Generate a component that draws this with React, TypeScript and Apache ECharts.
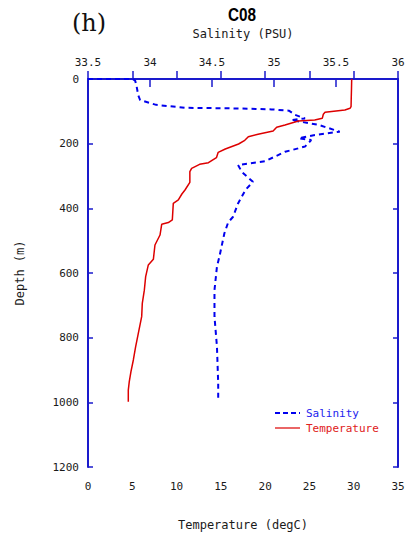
import React, { useEffect, useRef } from 'react';
import * as echarts from 'echarts';

const depthRange = [0, 1200];
const tempRange = [0, 35];
const salRange = [33.5, 36];

const tempDepth = [0, 3, 30, 60, 85.6, 90.7, 95.9, 103, 109, 121.7, 126.8, 129.9, 142.3, 149.5, 160.8, 171, 178.4, 189.7, 201, 216.5, 226.8, 243.3, 258.8, 264, 276.3, 286.6, 319.6, 343.3, 355.7, 374, 384.6, 436, 444, 449.5, 482.5, 513.5, 557.7, 575, 611, 653, 694, 735, 787, 828, 869, 905, 936, 962, 998];
const tempValues = [29.8, 29.77, 29.75, 29.72, 29.7, 29.58, 29.0, 26.76, 26.57, 26.45, 25.6, 23.75, 22.24, 21.3, 20.9, 19.2, 18.1, 17.7, 17.0, 15.5, 14.7, 14.5, 13.6, 12.6, 11.7, 11.5, 11.5, 10.95, 10.6, 10.2, 9.63, 9.52, 9.07, 8.32, 8.13, 7.56, 7.38, 6.81, 6.51, 6.36, 6.13, 6.06, 5.68, 5.38, 5.12, 4.85, 4.66, 4.55, 4.55];

const salDepth = [0, 0, 5, 18, 50, 65, 80, 89, 91, 94, 98, 111, 122, 127, 142, 163, 173, 183, 189, 209, 225, 254, 266, 287, 318, 343, 385, 426, 444, 477, 549, 580, 653, 735, 828, 941, 993];
const salValues = [33.5, 33.86, 33.88, 33.89, 33.905, 33.92, 34.05, 34.28, 34.69, 34.98, 35.12, 35.17, 35.25, 35.14, 35.36, 35.53, 35.33, 35.2, 35.3, 35.25, 35.09, 34.93, 34.71, 34.74, 34.83, 34.77, 34.71, 34.67, 34.63, 34.6, 34.56, 34.54, 34.52, 34.52, 34.54, 34.55, 34.55];

const seriesNames = ['Salinity', 'Temperature'];
const seriesColors = ['#0000ee', '#dd0000'];
const legendTextColors = ['#2222ee', '#e02020'];

const AXIS = '#1a1acc';
const TXT = '#1a1a1a';
const MONO = "'DejaVu Sans Mono', monospace";

export default function App() {
  const ref = useRef<HTMLDivElement>(null);
  useEffect(() => {
    if (!ref.current) return;
    const chart = echarts.init(ref.current, undefined, { renderer: 'svg' });
    const axisLine = { show: true, lineStyle: { color: AXIS, width: 2 } };
    const label = { color: TXT, fontFamily: MONO, fontSize: 11, formatter: (v: number) => String(v) };
    chart.setOption({
      animation: false,
      backgroundColor: '#ffffff',
      grid: { left: 88, right: 11, top: 79, bottom: 72, containLabel: false },
      graphic: [
        { type: 'text', left: 72, top: 11, style: { text: '(h)', font: "24px 'DejaVu Serif', serif", fill: '#111' } },
        { type: 'text', x: 242, y: 15, scaleX: 0.85, style: { text: 'C08', font: "bold 18px 'Liberation Sans', Arial, sans-serif", fill: '#000', align: 'center', verticalAlign: 'middle' } },
        { type: 'line', shape: { x1: 275, y1: 413, x2: 300, y2: 413 }, style: { stroke: seriesColors[0], lineWidth: 2, lineDash: [5, 3] } },
        { type: 'text', x: 306, y: 413, style: { text: seriesNames[0], font: "11px 'DejaVu Sans Mono', monospace", fill: legendTextColors[0], verticalAlign: 'middle' } },
        { type: 'line', shape: { x1: 275, y1: 428, x2: 300, y2: 428 }, style: { stroke: seriesColors[1], lineWidth: 1.2 } },
        { type: 'text', x: 306, y: 428, style: { text: seriesNames[1], font: "11px 'DejaVu Sans Mono', monospace", fill: legendTextColors[1], verticalAlign: 'middle' } },
      ],
      xAxis: [
        {
          type: 'value', position: 'bottom', min: tempRange[0], max: tempRange[1], interval: 5,
          name: 'Temperature (degC)', nameLocation: 'middle', nameGap: 52,
          nameTextStyle: { color: TXT, fontFamily: MONO, fontSize: 12 },
          axisLine, axisTick: { inside: true, length: 8, lineStyle: { color: AXIS, width: 1.5 } },
          axisLabel: { ...label, margin: 14 }, splitLine: { show: false },
        },
        {
          type: 'value', position: 'top', min: salRange[0], max: salRange[1], interval: 0.5,
          name: 'Salinity (PSU)', nameLocation: 'middle', nameGap: 39,
          nameTextStyle: { color: TXT, fontFamily: MONO, fontSize: 12 },
          axisLine, axisTick: { inside: true, length: 8, lineStyle: { color: AXIS, width: 1.5 } },
          axisLabel: { ...label, margin: 11 }, splitLine: { show: false },
        },
      ],
      yAxis: [
        {
          type: 'value', position: 'left', inverse: true, min: depthRange[0], max: depthRange[1], interval: 200,
          name: 'Depth (m)', nameLocation: 'middle', nameGap: 62,
          nameTextStyle: { color: TXT, fontFamily: MONO, fontSize: 12 },
          axisLine, axisTick: { inside: true, length: 5, lineStyle: { color: AXIS, width: 1.5 } },
          axisLabel: { ...label, margin: 9 }, splitLine: { show: false },
        },
        {
          type: 'value', position: 'right', inverse: true, min: depthRange[0], max: depthRange[1], interval: 200,
          axisLine, axisTick: { inside: true, length: 5, lineStyle: { color: AXIS, width: 1.5 } },
          axisLabel: { show: false }, splitLine: { show: false },
        },
      ],
      series: [
        {
          name: seriesNames[0], type: 'line', xAxisIndex: 1, yAxisIndex: 0, symbol: 'none',
          lineStyle: { color: seriesColors[0], width: 2, type: [5, 4] },
          itemStyle: { color: seriesColors[0] },
          data: salValues.map((v, i) => [v, salDepth[i]]),
          z: 3,
        },
        {
          name: seriesNames[1], type: 'line', xAxisIndex: 0, yAxisIndex: 0, symbol: 'none',
          lineStyle: { color: seriesColors[1], width: 1.5 },
          itemStyle: { color: seriesColors[1] },
          data: tempValues.map((v, i) => [v, tempDepth[i]]),
          z: 4,
        },
      ],
    });
    return () => chart.dispose();
  }, []);
  return <div ref={ref} style={{ position: 'fixed', left: 0, top: 0, width: 409, height: 539 }} />;
}
